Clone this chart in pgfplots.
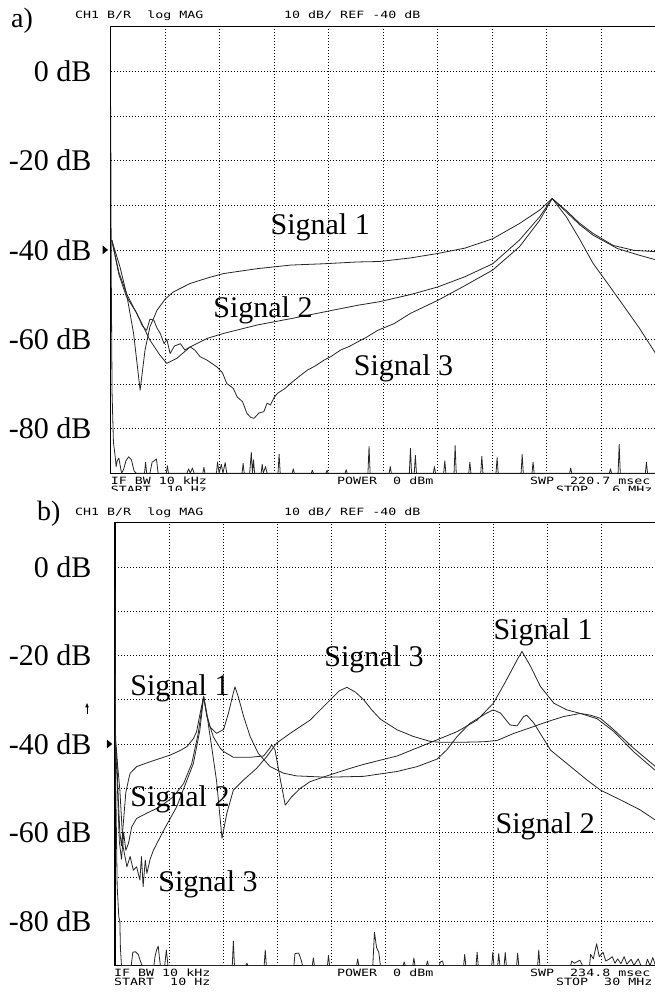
\documentclass[border=0pt]{standalone}
\usepackage{fontspec}
\setmainfont{Liberation Serif}
\newfontfamily\pix[FakeStretch=1.33]{DejaVu Sans Mono}
\usepackage{pgfplots}
\pgfplotsset{compat=1.18}
\newcommand{\bigtxt}{\fontsize{30}{36}\selectfont}
\newcommand{\mono}{\pix\fontsize{10}{10}\selectfont}
\tikzset{lab/.style={font=\bigtxt, anchor=base west, inner sep=0pt},
         ann/.style={anchor=base west, inner sep=0pt, font=\mono}}
\pgfplotsset{
  vna/.style={
    scale only axis,
    xmin=0, xmax=10, ymin=-90, ymax=10,
    xtick={0,1,...,10},
    xticklabels={{},{},{},{},{},{},{},{},{},{},{}},
    ytick={-90,-80,...,10},
    yticklabels={{},{-80 dB},{},{-60 dB},{},{-40 dB},{},{-20 dB},{},{0 dB},{}},
    major tick length=0pt,
    grid=major,
    grid style={black, line width=0.6pt, dash pattern=on 0.7pt off 2.3pt},
    axis line style={line width=1.2pt},
    yticklabel style={font=\bigtxt, anchor=east, inner sep=0pt},
  },
  sig/.style={black!85, line width=0.8pt, line join=round, mark=none},
}
\begin{document}
\begin{tikzpicture}
\useasboundingbox (0pt,0pt) rectangle (655pt,994pt);
% ---------------- panel a ----------------
\begin{axis}[vna, at={(110.7pt,520.7pt)}, anchor=south west, width=545pt, height=446.8pt,
  yticklabel style={xshift=-19.2pt}]
\addplot[sig] table {
x y
0.02 -37.8
0.17 -43.8
0.29 -49.8
0.42 -58.7
0.54 -71.4
0.63 -62.4
0.72 -57.2
0.85 -53.5
1.0 -51.0
1.15 -49.4
1.46 -47.5
1.8 -46.2
2.07 -45.3
2.69 -44.2
3.3 -43.4
3.91 -43.1
4.53 -42.7
4.93 -42.6
5.5 -41.8
6.0 -40.8
6.5 -39.6
7.01 -37.5
7.5 -34.1
7.87 -31.1
8.1 -28.5
8.36 -31.2
8.6 -34.0
8.85 -36.3
9.22 -39.0
9.6 -40.1
10 -40.4
};
\addplot[sig] table {
x y
0.02 -37.8
0.15 -45
0.29 -49.8
0.54 -55.7
0.72 -60.2
0.9 -63.5
1.03 -65.4
1.21 -64.3
1.46 -61.7
1.77 -59.8
2.07 -58.7
2.69 -56.8
3.3 -55.4
3.91 -53.9
4.53 -52.4
4.93 -51.6
5.5 -50.0
6.0 -48.3
6.5 -46.0
7.01 -43.1
7.5 -37.8
7.87 -32.6
8.1 -28.5
8.36 -31.5
8.6 -34.3
8.85 -36.7
9.3 -39.7
9.7 -41.2
10 -42.2
};
\addplot[sig] table {
x y
0.02 -37.8
0.15 -45.5
0.29 -50.5
0.48 -54.2
0.58 -57
0.66 -58
0.72 -55.5
0.79 -55.7
0.85 -57.5
0.91 -58.7
0.98 -61
1.03 -60
1.09 -63.2
1.17 -61.5
1.28 -61
1.36 -62.4
1.46 -61.7
1.55 -62.5
1.64 -63.9
1.77 -64.7
1.95 -66.2
2.05 -67.5
2.13 -69.9
2.25 -71
2.32 -72.9
2.42 -74
2.5 -76.6
2.57 -77.5
2.63 -77.7
2.72 -76.5
2.81 -76.2
2.87 -74.3
2.93 -74.7
3.0 -73
3.06 -72.1
3.2 -71
3.3 -69.9
3.45 -68.4
3.61 -66.9
3.75 -66
3.91 -64.7
4.05 -63.8
4.22 -62.4
4.38 -61.6
4.53 -60.6
4.7 -59.5
4.9 -58
5.2 -56.5
5.5 -54.2
6.0 -51.3
6.5 -48.0
7.01 -44.5
7.5 -39.3
7.87 -33.4
8.1 -28.5
8.36 -32.6
8.6 -37.5
8.85 -43
9.1 -47.2
9.34 -51.3
9.7 -57.5
10 -63.2
};
\addplot[sig] table {
x y
0 -8
0.01 -45
0.025 -72
0.05 -83
0.08 -86
0.1 -88.5
0.12 -87.2
0.15 -86.6
0.17 -88
0.2 -90
0.24 -89
0.28 -87.2
0.33 -86.3
0.38 -87
0.43 -89.5
0.47 -90
0.62 -90
0.64 -87.5
0.66 -90
0.72 -90
0.76 -87.5
0.8 -87.2
0.84 -86.8
0.87 -90
1.02 -90
1.04 -88.3
1.06 -90
1.4 -90
1.43 -89
1.46 -90
1.5 -88.8
1.53 -90
1.69 -90
1.71 -88.7
1.73 -90
1.94 -90
1.96 -87.5
1.99 -90
2.03 -88
2.06 -90
2.1 -87.6
2.13 -90
2.41 -90
2.43 -87.8
2.45 -90
2.55 -90
2.58 -85.3
2.6 -90
2.62 -87
2.64 -90
2.76 -90
2.78 -88
2.8 -90
2.84 -88.5
2.87 -90
3.07 -90
3.09 -85.7
3.11 -90
3.33 -90
3.35 -89
3.37 -90
3.68 -90
3.7 -89.3
3.72 -90
3.95 -90
3.97 -89.3
3.99 -90
4.3 -90
4.32 -89.2
4.34 -90
4.72 -90
4.74 -84
4.76 -90
5.11 -90
5.13 -88.5
5.15 -90
5.48 -90
5.5 -84.4
5.52 -90
5.57 -90
5.59 -86
5.61 -90
5.92 -90
5.94 -88.5
5.96 -90
6.11 -90
6.13 -87.2
6.15 -90
6.3 -90
6.32 -83.8
6.34 -90
6.57 -90
6.59 -87.5
6.61 -90
6.79 -90
6.81 -86.2
6.83 -90
7.07 -90
7.09 -86.5
7.11 -90
7.53 -90
7.55 -85.8
7.57 -90
7.73 -90
7.75 -87.5
7.77 -90
8.42 -90
8.44 -88.8
8.46 -90
9.15 -90
9.17 -89
9.19 -90
9.31 -90
9.33 -83.5
9.35 -90
9.81 -90
9.83 -87.5
9.85 -90
10 -90
};
\node[lab] at (axis cs:2.93,-36.6) {Signal 1};
\node[lab] at (axis cs:1.88,-55.2) {Signal 2};
\node[lab] at (axis cs:4.46,-68.1) {Signal 3};
\coordinate (ma) at (axis cs:0,-40);
\end{axis}
% ---------------- panel b ----------------
\begin{axis}[vna, at={(115pt,28.5pt)}, anchor=south west, width=540.5pt, height=443pt,
  yticklabel style={xshift=-23.5pt}]
\addplot[sig] table {
x y
0.0 -38
0.03 -42
0.06 -52
0.09 -60
0.12 -63
0.16 -57
0.2 -51
0.25 -48.1
0.28 -46.6
0.4 -45.1
0.65 -44
1.02 -42.5
1.2 -41.5
1.33 -40.6
1.45 -38.8
1.51 -37.2
1.56 -34
1.6 -31.6
1.64 -29.3
1.7 -33.8
1.82 -38.4
1.95 -41
2.01 -41.7
2.19 -43
2.5 -43
2.75 -42.7
2.86 -41
2.9 -40.2
2.96 -41.3
3.06 -48.1
3.15 -53.8
3.27 -51.9
3.43 -50
3.61 -48.5
3.92 -47.2
4.35 -45.5
4.6 -44.6
5.22 -42.7
5.83 -39.7
6.33 -37.2
6.7 -34.6
7.0 -30.8
7.2 -26.5
7.31 -24
7.44 -21
7.53 -19.1
7.69 -22.5
7.87 -27
8.12 -30.8
8.36 -32.3
8.61 -33.1
8.92 -34.3
9.23 -37.2
9.6 -41.8
10 -46
};
\addplot[sig] table {
x y
0.0 -38
0.04 -48
0.08 -62
0.12 -66
0.16 -60
0.2 -64
0.25 -62.4
0.31 -58.7
0.4 -56.8
0.59 -55.6
0.83 -54.2
1.08 -51.9
1.27 -48.9
1.42 -44.4
1.54 -37.6
1.6 -32.5
1.64 -29.3
1.7 -33.4
1.76 -36.2
1.88 -37.6
2.01 -36.7
2.1 -33
2.18 -28.9
2.22 -27.1
2.28 -29.3
2.38 -33.8
2.5 -38.3
2.65 -42.1
2.87 -45.1
3.12 -46.6
3.36 -47.2
3.92 -47.5
4.6 -47.3
5.22 -46.2
5.59 -45.1
5.96 -43.4
6.14 -41.3
6.33 -38.3
6.57 -35.3
6.88 -33
7.0 -32.3
7.13 -33
7.31 -35.7
7.44 -35.9
7.56 -33.8
7.62 -33.5
7.75 -35.3
8.06 -41.4
8.36 -44.4
8.73 -48.1
8.98 -50.4
9.35 -52.6
9.72 -54.9
10 -57.2
};
\addplot[sig] table {
x y
0.0 -38
0.05 -45
0.09 -50.4
0.15 -63.2
0.22 -67.7
0.28 -65.4
0.34 -68.5
0.4 -67.7
0.46 -70.7
0.49 -65.4
0.52 -72.2
0.56 -66.2
0.59 -69.2
0.65 -66
0.71 -64
0.9 -59.5
1.14 -54.2
1.33 -48.2
1.45 -44.4
1.57 -36.9
1.64 -29.3
1.7 -33.3
1.79 -40.8
1.88 -48.4
1.98 -61.3
2.07 -55.6
2.19 -50.4
2.38 -48.1
2.62 -45.5
2.81 -42.8
2.99 -39.8
3.24 -37.6
3.61 -34.6
3.92 -30.8
4.15 -28
4.29 -27.2
4.45 -28.3
4.6 -30
4.75 -32.3
4.91 -34.4
5.22 -36.8
5.52 -38.3
5.83 -39.4
6.0 -39.6
6.45 -39.6
6.82 -39.5
7.07 -39.2
7.38 -37.6
7.69 -36.3
7.99 -35
8.3 -33.8
8.61 -33.1
8.8 -33.5
8.98 -34.2
9.23 -36.8
9.6 -41
10 -45.1
};
\addplot[sig] table {
x y
0 -4.5
0.015 -50
0.04 -72
0.07 -79
0.09 -80
0.1 -86
0.12 -90
0.3 -90
0.33 -87
0.38 -86.9
0.43 -87.5
0.47 -89
0.5 -90
0.72 -90
0.74 -88
0.77 -86.5
0.8 -85.6
0.82 -88
0.84 -90
0.92 -90
0.95 -86.5
0.98 -90
2.17 -90
2.19 -84.5
2.21 -90
2.42 -90
2.44 -89.5
2.46 -90
2.76 -90
2.78 -86.5
2.8 -90
3.31 -90
3.33 -87.3
3.4 -87.2
3.45 -89
3.47 -90
3.65 -90
3.67 -88.3
3.69 -90
3.93 -90
3.95 -87.7
3.97 -90
4.47 -90
4.49 -88.5
4.51 -90
4.77 -90
4.8 -82.5
4.84 -86
4.88 -87
4.91 -90
5.33 -90
5.35 -89.2
5.37 -90
5.51 -90
5.53 -88.3
5.55 -90
5.76 -90
5.78 -89
5.8 -90
6.0 -90
6.02 -89.2
6.06 -89
6.08 -90
6.45 -90
6.47 -87.5
6.49 -90
6.68 -90
6.7 -87
6.72 -90
6.97 -90
6.99 -87
7.01 -90
7.08 -90
7.1 -87.3
7.12 -90
7.2 -90
7.22 -87
7.24 -90
7.43 -90
7.45 -87.2
7.47 -90
7.82 -90
7.84 -86.5
7.86 -90
8.43 -90
8.45 -89
8.5 -89.5
8.6 -88.8
8.65 -90
8.78 -90
8.8 -87.5
8.85 -88.5
8.91 -85.1
8.96 -88
9.03 -87
9.08 -89
9.15 -88.5
9.2 -88
9.25 -89.5
9.3 -88.5
9.36 -89.6
9.42 -88
9.47 -89.7
9.55 -88.6
9.6 -90
9.68 -88.5
9.73 -90
9.82 -90
9.85 -88.6
9.9 -90
9.95 -88.2
10 -90
};
\node[lab] at (axis cs:0.28,-29.1) {Signal 1};
\node[lab] at (axis cs:0.28,-54.2) {Signal 2};
\node[lab] at (axis cs:0.80,-73.2) {Signal 3};
\node[lab] at (axis cs:3.87,-22.4) {Signal 3};
\node[lab] at (axis cs:7.0,-16.5) {Signal 1};
\node[lab] at (axis cs:7.04,-60.3) {Signal 2};
\coordinate (mb) at (axis cs:0,-40);
\end{axis}
% reference markers
\fill (ma) ++(-2.7pt,0) -- ++(-5.5pt,4.5pt) -- ++(0,-9pt) -- cycle;
\fill (mb) ++(-2.7pt,0) -- ++(-5.5pt,4.5pt) -- ++(0,-9pt) -- cycle;
\draw[line width=0.6pt] (87pt,280pt) -- (87pt,288pt);
\fill (87pt,291pt) -- (85.2pt,286.5pt) -- (88.8pt,286.5pt) -- cycle;
% panel letters
\node[anchor=base west, inner sep=0pt, font=\fontsize{28}{32}\selectfont] at (11pt,966pt) {a)};
\node[anchor=base west, inner sep=0pt, font=\fontsize{28}{32}\selectfont] at (37pt,473pt) {b)};
% instrument annotations, panel a
\node[ann] at (75pt,975.5pt) {CH1~B/R~~log~MAG};
\node[ann] at (284pt,975.5pt) {10~dB/~REF~-40~dB};
\node[ann] at (110.7pt,509.5pt) {IF~BW~10~kHz};
\node[ann] at (337pt,509.5pt) {POWER~~0~dBm};
\node[ann] at (530pt,509.5pt) {SWP~~220.7~msec};
\node[ann] at (110.7pt,500pt) {START~~10~Hz};
\node[ann] at (556pt,500pt) {STOP~~~6~MHz};
\fill[white] (100pt,494pt) rectangle (660pt,503pt);
% instrument annotations, panel b
\node[ann] at (75pt,478.5pt) {CH1~B/R~~log~MAG};
\node[ann] at (284pt,478.5pt) {10~dB/~REF~-40~dB};
\node[ann] at (114pt,17.5pt) {IF~BW~10~kHz};
\node[ann] at (337pt,17.5pt) {POWER~~0~dBm};
\node[ann] at (530pt,17.5pt) {SWP~~234.8~msec};
\node[ann] at (114pt,9pt) {START~~10~Hz};
\node[ann] at (556pt,9pt) {STOP~~30~MHz};
\end{tikzpicture}
\end{document}
